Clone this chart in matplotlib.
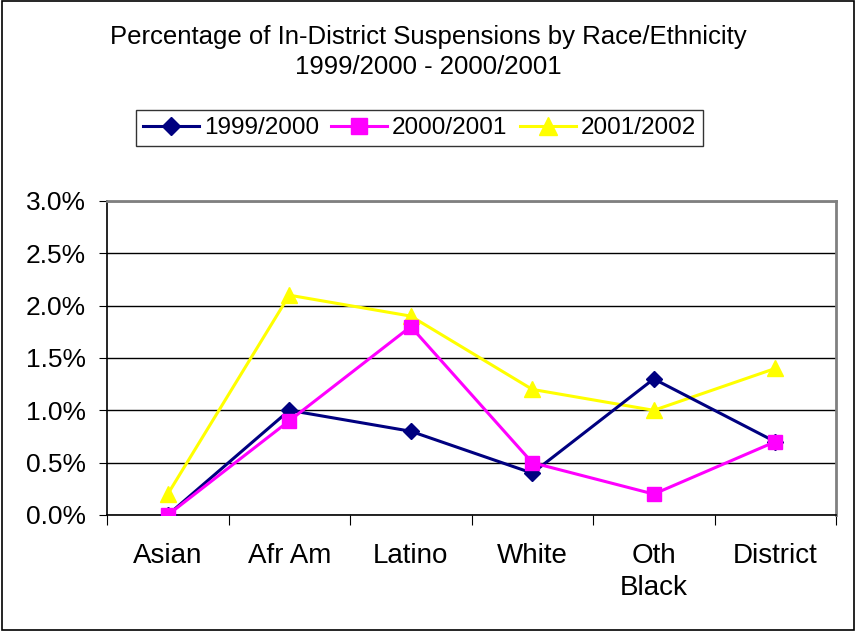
import matplotlib.pyplot as plt
from matplotlib.patches import Rectangle
from matplotlib.ticker import FixedLocator, PercentFormatter

plt.rcParams['font.family'] = ['Liberation Sans', 'DejaVu Sans']

categories = ["Asian", "Afr Am", "Latino", "White", "Oth\nBlack", "District"]
y1999 = [0.0, 1.0, 0.8, 0.4, 1.3, 0.7]
y2000 = [0.0, 0.9, 1.8, 0.5, 0.2, 0.7]
y2001 = [0.2, 2.1, 1.9, 1.2, 1.0, 1.4]

fig = plt.figure(figsize=(8.57, 6.34), dpi=100)
ax = fig.add_axes([0.1249, 0.1877, 0.8506, 0.4953])

x = list(range(len(categories)))
ax.plot(x, y1999, color='#000080', marker='D', markersize=8, lw=2.2, label="1999/2000", zorder=3)
ax.plot(x, y2000, color='#FF00FF', marker='s', markersize=10, lw=2.2, label="2000/2001", zorder=4)
ax.plot(x, y2001, color='#FFFF00', marker='^', markersize=12, lw=2.2, label="2001/2002", zorder=2)

ax.set_xlim(-0.5, 5.5)
ax.set_ylim(0, 3.0)
ax.set_yticks([0, 0.5, 1.0, 1.5, 2.0, 2.5, 3.0])
ax.yaxis.set_major_formatter(PercentFormatter(decimals=1))
ax.grid(axis='y', color='black', lw=1)

ax.xaxis.set_major_locator(FixedLocator([i - 0.5 for i in range(len(categories) + 1)]))
ax.xaxis.set_minor_locator(FixedLocator(x))
ax.set_xticklabels([], minor=False)
ax.set_xticklabels(categories, minor=True, fontsize=20, va='top', linespacing=1.3)
ax.tick_params(axis='x', which='major', length=7, direction='out')
ax.tick_params(axis='x', which='minor', length=0, pad=20)
ax.tick_params(axis='y', length=6, labelsize=19, pad=9)

for side in ['top', 'right']:
    ax.spines[side].set_color('#808080')
    ax.spines[side].set_linewidth(2)
ax.spines['left'].set_linewidth(1.2)
ax.spines['bottom'].set_linewidth(1.2)

fig.text(0.5, 0.918, "Percentage of In-District Suspensions by Race/Ethnicity\n1999/2000 - 2000/2001",
         ha='center', va='center', fontsize=18.5, linespacing=1.35)

leg = fig.legend(loc='center', bbox_to_anchor=(0.4895, 0.798), ncol=3, fontsize=17.5,
                 frameon=True, fancybox=False, edgecolor='black', handlelength=2.3,
                 columnspacing=0.5, handletextpad=0.2, borderpad=0.3, borderaxespad=0,
                 markerscale=1.1)
leg.get_frame().set_linewidth(1)

fig.patches.append(Rectangle((0.002, 0.006), 0.995, 0.993, transform=fig.transFigure,
                             fill=False, edgecolor='black', lw=1.2))

fig.savefig("out.png", dpi=100)
